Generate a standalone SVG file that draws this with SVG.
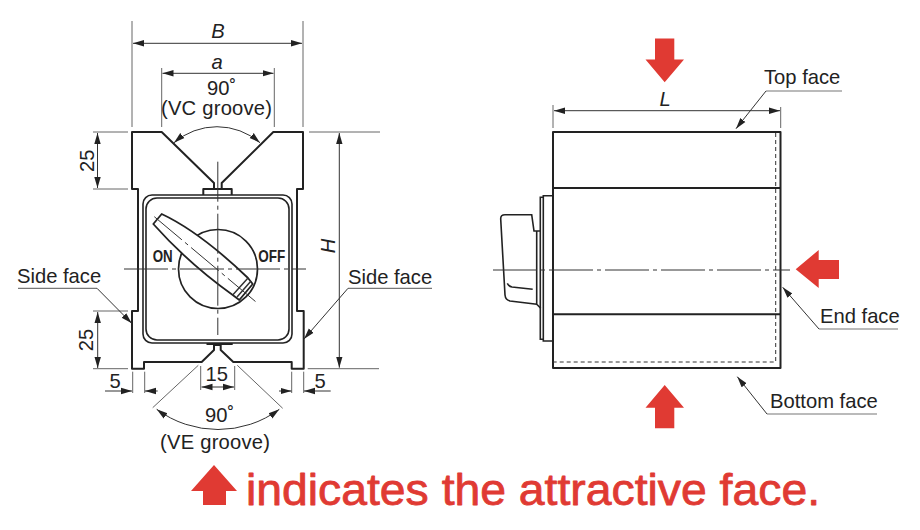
<svg xmlns="http://www.w3.org/2000/svg" width="920" height="530" viewBox="0 0 920 530">
<style>
.t{font-family:"Liberation Sans",Arial,sans-serif;font-size:20.2px;fill:#222}
.i{font-style:italic}
.m{text-anchor:middle}
.o{fill:none;stroke:#222;stroke-width:2;stroke-linejoin:round}
.h{fill:none;stroke:#222;stroke-width:1.6}
.thin{fill:none;stroke:#333;stroke-width:1}
.ext{fill:none;stroke:#666;stroke-width:1}
.cl{fill:none;stroke:#333;stroke-width:1;stroke-dasharray:44 4 4 4}
.d{fill:none;stroke:#333;stroke-width:1;marker-start:url(#as);marker-end:url(#ae)}
.l{fill:none;stroke:#333;stroke-width:1;marker-end:url(#ae)}
.u{fill:none;stroke:#777;stroke-width:1.2}
.r{fill:#e03a33}
.b{font-family:"Liberation Sans",Arial,sans-serif;font-weight:bold;font-size:17px;fill:#222}
</style>
<defs>
<marker id="ae" markerUnits="userSpaceOnUse" markerWidth="12" markerHeight="8" refX="11" refY="4" orient="auto"><path d="M0 .8L11 4L0 7.2z" fill="#222"/></marker>
<marker id="as" markerUnits="userSpaceOnUse" markerWidth="12" markerHeight="8" refX="1" refY="4" orient="auto"><path d="M12 .8L1 4L12 7.2z" fill="#222"/></marker>
</defs>
<g id="front-view">
<path class="o" d="M132 132H161.700L214 183V189H221.700V183L273.300 132H303V189H297V311H303.700V368.700H291.700V362H233.300L220.700 350V345H214V350L201.700 362H144V368.700H132V311H138V189H132Z"/>
<rect class="h" x="143" y="195" width="149" height="148" rx="9"/>
<rect class="h" x="146" y="198" width="143" height="142" rx="11"/>
<path class="o" d="M203.300 195V189H231.700V195"/>
<path class="o" d="M206.500 344H232.700"/>
<circle class="o" style="stroke-width:1.700" cx="218" cy="269" r="39.500"/>
<path class="o" style="fill:#fff;stroke-width:1.800" d="M161.700 214Q200 232 248 278L252.700 284L239.300 300L232.700 295Q188 263 153.300 224Z"/>
<path class="thin" style="stroke-width:1.500" d="M232.700 295L248 278M237 297L251 281"/>
<path class="cl" d="M124 269H306"/>
<path class="cl" style="stroke-dasharray:40 4 4 4" d="M217.800 161.700V335"/>
<path class="thin" style="stroke-dasharray:36 4 4 4" d="M154.300 216.700L255.700 301.700"/>
<text class="b" x="152.700" y="261.700" textLength="20" lengthAdjust="spacingAndGlyphs">ON</text>
<text class="b" x="258.300" y="261.700" textLength="27" lengthAdjust="spacingAndGlyphs">OFF</text>
</g>
<g id="front-dimensions">
<path class="ext" d="M132 21V127M303 21V127M161.700 68V127M274.300 68V127M93 132H128M93 189H128M93 311H128M93 368.700H128M309 132H380M307.700 368.700H379M132.700 371.700V393M144.700 371.700V393M291.700 371.700V393M303.700 371.700V393M200.700 366V390M234.700 366V390M198.300 365.300L152.700 407.700M237.300 365.300L282.700 408.300"/>
<path class="d" d="M133 43.300H302"/>
<path class="d" d="M162.500 73.300H273.500"/>
<path class="d" d="M174 142.700A65.800 65.800 0 0 1 260 142.700"/>
<path class="d" d="M97.500 133V188"/>
<path class="d" d="M97.700 312V368"/>
<path class="d" d="M339.300 133V367.700"/>
<path class="l" d="M105 391H132"/>
<path class="l" d="M157.700 391H145"/>
<path class="l" d="M279 391H291.500"/>
<path class="l" d="M330.700 391H304"/>
<path class="d" d="M201.500 387H234"/>
<path class="d" d="M156.700 409.300A103 103 0 0 0 279.300 409.300"/>
<text class="t i m" x="218" y="38">B</text>
<text class="t i m" x="217" y="69">a</text>
<text class="t" x="207" y="95">90˚</text>
<text class="t" x="161" y="115" textLength="111" lengthAdjust="spacing">(VC groove)</text>
<text class="t m" transform="translate(94 160.700) rotate(-90)">25</text>
<text class="t m" transform="translate(93 340) rotate(-90)">25</text>
<text class="t i m" transform="translate(335 246) rotate(-90)">H</text>
<text class="t m" x="115" y="387.700">5</text>
<text class="t m" x="320" y="387.700">5</text>
<text class="t m" x="216.700" y="380.700">15</text>
<text class="t" x="205" y="422">90˚</text>
<text class="t" x="160" y="449" textLength="110" lengthAdjust="spacing">(VE groove)</text>
</g>
<g id="side-face-labels">
<path class="u" d="M18 288.300H97"/>
<path class="l" d="M97 288.300L131.700 323.300"/>
<path class="u" d="M348 288.300H432"/>
<path class="l" d="M348 288.300L304 339"/>
<text class="t" x="17" y="283.300">Side face</text>
<text class="t" x="348" y="284">Side face</text>
</g>
<g id="side-view">
<rect class="o" x="553" y="132" width="227.500" height="236"/>
<path class="o" d="M553 188H780.500M553 314.300H780.500"/>
<path class="thin" stroke-dasharray="4 3" d="M775.700 133V362H553"/>
<path class="h" d="M553 195.700H543.300V341H553M543.300 197.300H540.300V339.300H543.300"/>
<path class="h" d="M540.300 231H534L531.700 214.700H505Q500.500 214.700 500.700 219L505 295Q505.500 300 510 301L536.700 304.300L540.700 308.300M536.700 231V304.300M507.300 283.300Q509 286.500 512 287L532.700 289.300"/>
<path class="cl" d="M493 270H790"/>
</g>
<g id="side-dimensions">
<path class="ext" d="M553 105V128M780.700 107V128"/>
<path class="d" d="M554 110.700H780"/>
<text class="t i m" x="665" y="106">L</text>
<path class="u" d="M766 91H842M819 329H898M767 414H877"/>
<path class="l" d="M766 91L736 128.700"/>
<path class="l" d="M819 329L782.700 287.300"/>
<path class="l" d="M767 414L737.300 376.700"/>
<text class="t" x="764" y="84">Top face</text>
<text class="t" x="820" y="323">End face</text>
<text class="t" x="770" y="408">Bottom face</text>
</g>
<g id="attractive-arrows">
<path class="r" d="M655 38.500H674.300V59.500H684L664.700 82.300L645.500 59.500H655Z"/>
<path class="r" d="M795.700 269.300L818.700 250V260H839V279H818.700V288Z"/>
<path class="r" d="M664.700 385L684 407.700H674.300V428.300H655V407.700H645.500Z"/>
</g>
<g id="legend">
<path class="r" d="M214 465L237 491H226V505H203V491H191Z"/>
<text x="246" y="505" font-family="'Liberation Sans',Arial,sans-serif" font-size="44" fill="#e03a33" stroke="#e03a33" stroke-width=".8" stroke-linejoin="round" textLength="574" lengthAdjust="spacingAndGlyphs">indicates the attractive face.</text>
</g>
</svg>
